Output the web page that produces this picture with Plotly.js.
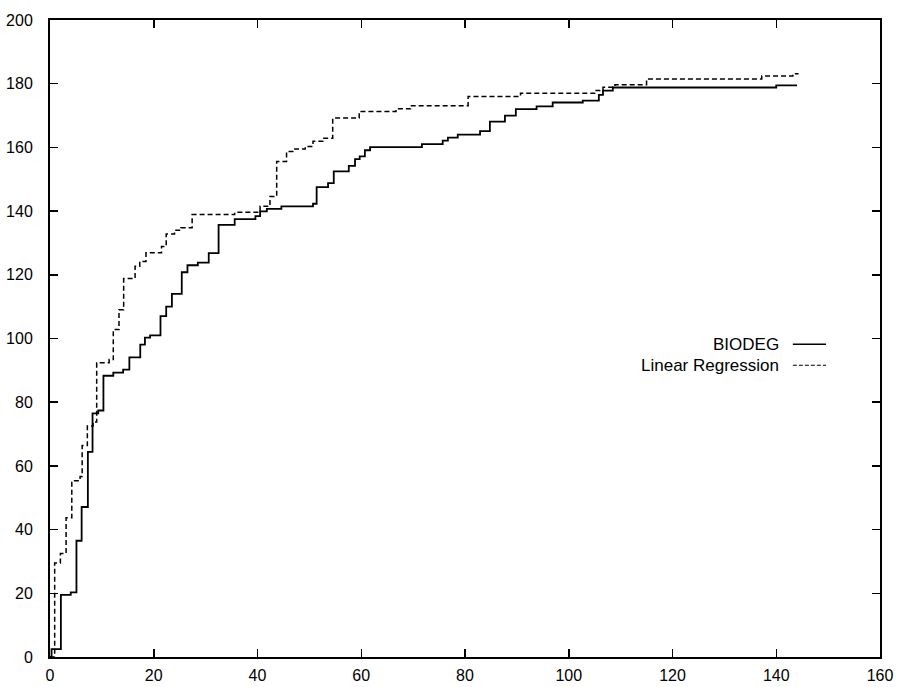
<!DOCTYPE html>
<html>
<head>
<meta charset="utf-8">
<script src="https://cdn.plot.ly/plotly-3.0.1.min.js"></script>
<style>html,body{margin:0;padding:0;background:#fff;}#chart{width:905px;height:687px;}</style>
</head>
<body>
<div id="chart"></div>
<script>
// BIODEG (solid) step curve: x where step occurs, new cumulative value
var biodegX = [0, 0.3, 2.1, 4.0, 5.1, 6.1, 7.3, 8.2, 9.3, 10.3, 12.2, 14.1, 15.3, 17.4, 18.3, 19.3, 21.3, 22.4, 23.5, 25.4, 26.5, 28.5, 30.6, 32.5, 35.6, 39.6, 40.5, 41.8, 44.6, 50.7, 51.4, 53.6, 54.7, 57.6, 58.8, 59.7, 60.7, 61.7, 71.7, 75.7, 76.7, 78.6, 82.9, 84.8, 87.7, 89.8, 93.8, 96.9, 102.7, 105.8, 106.6, 108.5, 140, 144];
var biodegY = [0, 2.5, 19.5, 20.3, 36.5, 47.1, 64.4, 76.5, 77.4, 88.3, 89.3, 90.2, 94.1, 98.1, 100.3, 101, 107, 110, 114, 120.8, 123, 123.8, 126.8, 135.7, 137.5, 138.4, 139.9, 140.7, 141.5, 142.3, 147.5, 148.8, 152.5, 154.2, 156.3, 157.2, 159.1, 160.1, 161, 162.1, 163.1, 164, 165.1, 168.1, 170, 172, 172.9, 174.1, 174.7, 176.5, 177.8, 178.8, 179.5, 179.5];

// Linear Regression (dashed) step curve
var linregX = [0, 0.9, 2.0, 3.1, 4.2, 5.8, 6.2, 7.2, 8.3, 9.0, 11.4, 12.2, 13.3, 14.2, 16.4, 17.3, 18.5, 21.5, 22.4, 24.0, 25.2, 27.4, 35.6, 40.5, 42.4, 43.7, 45.6, 47.2, 49.2, 50.7, 52.6, 54.5, 59.6, 66.7, 69.5, 80.6, 90.7, 105.0, 106.6, 108.9, 115.0, 137.2, 143.2, 144.3];
var linregY = [0, 29.5, 32.5, 43.7, 55.3, 56.7, 66.4, 72.5, 73.8, 92.4, 93.4, 102.8, 109, 118.8, 122.7, 124.2, 126.9, 128.9, 132.8, 134, 134.8, 138.9, 139.6, 141.5, 144.6, 155.6, 158.7, 159.5, 160.3, 161.9, 162.9, 169.2, 171.3, 172.1, 173.1, 176, 177, 177.9, 178.9, 179.7, 181.5, 182.4, 183.1, 183.1];

var xTicks = [0, 20, 40, 60, 80, 100, 120, 140, 160];
var yTicks = [0, 20, 40, 60, 80, 100, 120, 140, 160, 180, 200];
var legendLabels = ['BIODEG', 'Linear Regression'];

var traces = [
  {x: biodegX, y: biodegY, type: 'scatter', mode: 'lines', name: legendLabels[0],
   line: {shape: 'hv', color: '#000', width: 1.8}},
  {x: linregX, y: linregY, type: 'scatter', mode: 'lines', name: legendLabels[1],
   line: {shape: 'hv', color: '#000', width: 1.5, dash: '5px,3px'}}
];

var axisFont = {family: 'Liberation Sans, Arial, sans-serif', size: 16, color: '#000'};
var legFont = {family: 'Liberation Sans, Arial, sans-serif', size: 17, color: '#000'};

var layout = {
  width: 905, height: 687,
  margin: {l: 50, r: 25, t: 20, b: 30},
  paper_bgcolor: '#fff', plot_bgcolor: '#fff',
  showlegend: false,
  xaxis: {range: [0, 160], tickvals: xTicks, ticktext: xTicks.map(String),
    ticks: 'inside', ticklen: 8, tickwidth: 1.5, tickcolor: '#000',
    showline: true, linecolor: '#000', linewidth: 2, mirror: 'ticks',
    showgrid: false, zeroline: false, tickfont: axisFont, ticklabelstandoff: 3},
  yaxis: {range: [0, 200], tickvals: yTicks, ticktext: yTicks.map(String),
    ticks: 'inside', ticklen: 8, tickwidth: 1.5, tickcolor: '#000',
    showline: true, linecolor: '#000', linewidth: 2, mirror: 'ticks',
    showgrid: false, zeroline: false, tickfont: axisFont, ticklabelstandoff: 12},
  annotations: [
    {xref: 'paper', yref: 'paper', x: 0.8795, y: 0.474, xanchor: 'right', yanchor: 'bottom',
     text: legendLabels[0], showarrow: false, font: legFont, borderpad: 0},
    {xref: 'paper', yref: 'paper', x: 0.8795, y: 0.474, xanchor: 'right', yanchor: 'top',
     text: legendLabels[1], showarrow: false, font: legFont, borderpad: 0}
  ],
  shapes: [
    {type: 'line', xref: 'paper', yref: 'paper', x0: 0.895, x1: 0.935, y0: 0.491, y1: 0.491,
     line: {color: '#000', width: 1.4}},
    {type: 'line', xref: 'paper', yref: 'paper', x0: 0.895, x1: 0.935, y0: 0.458, y1: 0.458,
     line: {color: '#000', width: 1.2, dash: '4px,2px'}}
  ]
};

Plotly.newPlot('chart', traces, layout, {displayModeBar: false, staticPlot: true});
</script>
</body>
</html>
